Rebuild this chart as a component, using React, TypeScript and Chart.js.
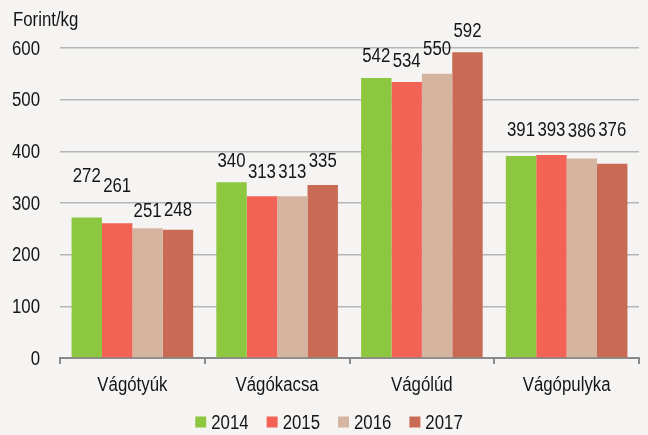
import React, { useEffect, useRef } from "react";
import { Chart, registerables } from "chart.js";

Chart.register(...registerables);

const categories = ["Vágótyúk", "Vágókacsa", "Vágólúd", "Vágópulyka"];
const years = ["2014", "2015", "2016", "2017"];
const values2014 = [272, 340, 542, 391];
const values2015 = [261, 313, 534, 393];
const values2016 = [251, 313, 550, 386];
const values2017 = [248, 335, 592, 376];
const yTicks = [0, 100, 200, 300, 400, 500, 600];
const unitLabel = "Forint/kg";

// extra vertical lift (px) of each value label, per series, per category
const labelLift = [
  [20, 0, 0, 4],
  [16, 3, 0, 3],
  [-4, 3, 3, 6],
  [-2, 2, 0, 12],
];

const colors = ["#8dc63f", "#f26356", "#d5b4a0", "#c86a54"];
const FONT = "'Liberation Sans', Arial, sans-serif";
const FS = 20;
const SQUEEZE = 0.84;
const TEXT = "#151515";

function narrowText(ctx: CanvasRenderingContext2D, text: string, x: number, y: number, align: CanvasTextAlign) {
  ctx.save();
  ctx.translate(x, y);
  ctx.scale(SQUEEZE, 1);
  ctx.textAlign = align;
  ctx.fillText(text, 0, 0);
  ctx.restore();
}

export default function App() {
  const ref = useRef<HTMLCanvasElement>(null);
  useEffect(() => {
    if (!ref.current) return;
    const series = [values2014, values2015, values2016, values2017];
    const textPlugin = {
      id: "narrowTexts",
      afterDraw(chart: any) {
        const ctx: CanvasRenderingContext2D = chart.ctx;
        ctx.save();
        ctx.font = `${FS}px ${FONT}`;
        ctx.fillStyle = TEXT;
        ctx.textBaseline = "middle";
        // value labels
        chart.data.datasets.forEach((ds: any, di: number) => {
          const meta = chart.getDatasetMeta(di);
          meta.data.forEach((el: any, i: number) => {
            narrowText(ctx, String(ds.data[i]), el.x, el.y - 21 - labelLift[di][i], "center");
          });
        });
        // unit
        narrowText(ctx, unitLabel, 13, 20, "left");
        // y ticks
        const ys = chart.scales.y;
        yTicks.forEach((v) => {
          narrowText(ctx, String(v), ys.right - 20, ys.getPixelForValue(v) + 1, "right");
        });
        // x ticks
        const xs = chart.scales.x;
        categories.forEach((c, i) => {
          narrowText(ctx, c, xs.getPixelForValue(i), xs.top + 27, "center");
        });
        // legend
        const gapBox = 5;
        const gapItem = 18;
        const widths = years.map((y) => ctx.measureText(y).width * SQUEEZE);
        const total = widths.reduce((a, w) => a + 11 + gapBox + w + gapItem, 0) - gapItem;
        let x = (chart.width + 10) / 2 - total / 2;
        const ly = xs.bottom + 20;
        years.forEach((y, i) => {
          ctx.fillStyle = colors[i];
          ctx.fillRect(x, ly - 5.5, 11, 11);
          ctx.fillStyle = TEXT;
          narrowText(ctx, y, x + 11 + gapBox, ly + 1, "left");
          x += 11 + gapBox + widths[i] + gapItem;
        });
        ctx.restore();
      },
    };
    const chart = new Chart(ref.current, {
      type: "bar",
      data: {
        labels: categories,
        datasets: years.map((y, i) => ({
          label: y,
          data: series[i],
          backgroundColor: colors[i],
          borderWidth: 0,
          categoryPercentage: 0.84,
          barPercentage: 1,
        })),
      },
      options: {
        animation: false,
        responsive: false,
        maintainAspectRatio: false,
        layout: { padding: { top: 48, right: 9, left: 0, bottom: 33 } },
        plugins: {
          tooltip: { enabled: false },
          legend: { display: false },
        },
        scales: {
          x: {
            afterFit(scale: any) {
              scale.height = 44;
            },
            grid: {
              drawOnChartArea: false,
              drawTicks: true,
              tickLength: 6,
              color: "#8a8a8a",
              lineWidth: 2,
              offset: true,
            },
            border: { color: "#8a8a8a", width: 2 },
            ticks: {
              color: "rgba(0,0,0,0)",
              padding: 8,
              font: { family: FONT, size: 14 },
            },
          },
          y: {
            min: 0,
            max: 600,
            afterFit(scale: any) {
              scale.width = 60;
            },
            afterBuildTicks(scale: any) {
              scale.ticks = yTicks.map((v) => ({ value: v }));
            },
            grid: { color: "#b5b5b5", lineWidth: 1.5, drawTicks: false },
            border: { display: false },
            ticks: {
              color: "rgba(0,0,0,0)",
              padding: 19,
              font: { family: FONT, size: 14 },
            },
          },
        },
      },
      plugins: [textPlugin],
    });
    return () => chart.destroy();
  }, []);
  return (
    <div style={{ position: "fixed", left: 0, top: 0, width: 648, height: 435, background: "#f5f4f2" }}>
      <canvas ref={ref} width={648} height={435} style={{ width: 648, height: 435, display: "block" }} />
    </div>
  );
}
